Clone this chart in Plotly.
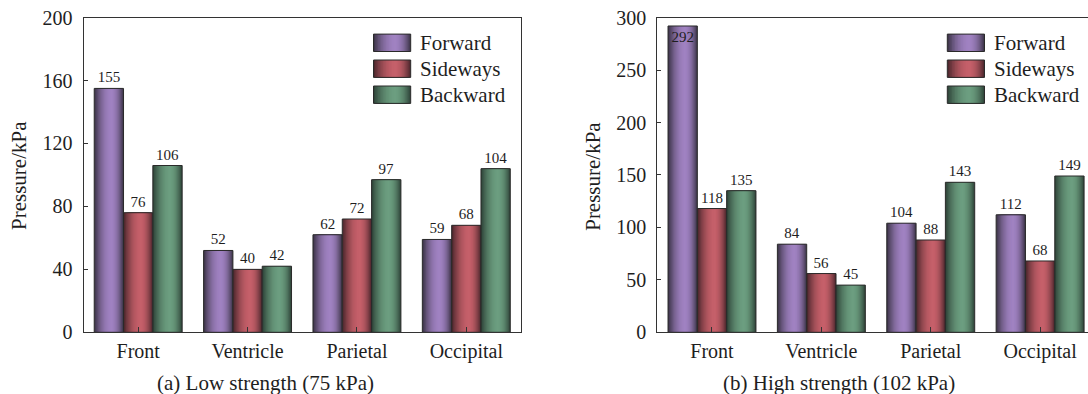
import plotly.graph_objects as go

# ---------------- data ----------------
categories = ["Front", "Ventricle", "Parietal", "Occipital"]
series_names = ["Forward", "Sideways", "Backward"]

low_forward = [155, 52, 62, 59]
low_sideways = [76, 40, 72, 68]
low_backward = [106, 42, 97, 104]

high_forward = [292, 84, 104, 112]
high_sideways = [118, 56, 88, 68]
high_backward = [135, 45, 143, 149]

low_ticks = [0, 40, 80, 120, 160, 200]
high_ticks = [0, 50, 100, 150, 200, 250, 300]

subtitle_low = "(a) Low strength (75 kPa)"
subtitle_high = "(b) High strength (102 kPa)"
y_title = "Pressure/kPa"

# ---------------- style ----------------
W, H = 1088, 394
FONT = "Liberation Serif, Times New Roman, serif"
AX = "#333333"
TXT = "#1e1e1e"
PEAK_COLORS = [(160, 130, 194), (198, 96, 106), (108, 158, 128)]
EDGE_COLORS = [(62, 54, 74), (78, 40, 46), (48, 70, 58)]
K = 14          # gradient layers
BAR_W = 0.268   # bar width (category units)
PEAK = 0.58     # brightest position across a bar

def px_x(p):
    return p / W

def px_y(p):
    return 1 - p / H

def mix(c0, c1, f):
    return "rgb(%d,%d,%d)" % tuple(round(a + (b - a) * f) for a, b in zip(c0, c1))

def prof(t):
    return 1 - (1 - t) ** 2

fig = go.Figure()

panels = [
    dict(vals=[low_forward, low_sideways, low_backward], xa="x", ya="y", ymax=200),
    dict(vals=[high_forward, high_sideways, high_backward], xa="x2", ya="y2", ymax=300),
]

for p in panels:
    for s, vals in enumerate(p["vals"]):
        left = (s - 1.5) * BAR_W
        right = left + BAR_W
        peak = left + PEAK * BAR_W
        for k in range(K):
            t = k / K
            l = left + (peak - left) * t
            r = right - (right - peak) * t
            fig.add_trace(go.Bar(
                x=categories, y=vals, width=[r - l] * 4, offset=[l] * 4,
                marker=dict(color=mix(EDGE_COLORS[s], PEAK_COLORS[s], prof(t)), line=dict(width=0)),
                showlegend=False, hoverinfo="skip", xaxis=p["xa"], yaxis=p["ya"],
            ))
        pos = ["inside" if v > 0.95 * p["ymax"] else "outside" for v in vals]
        fig.add_trace(go.Bar(
            x=categories, y=vals, width=[BAR_W] * 4, offset=[left] * 4,
            name=series_names[s],
            marker=dict(color="rgba(0,0,0,0)", line=dict(color="#2a2a2a", width=1)),
            text=[str(v) for v in vals], textposition=pos, insidetextanchor="end",
            textfont=dict(family=FONT, size=15, color=TXT),
            insidetextfont=dict(family=FONT, size=15, color=TXT),
            outsidetextfont=dict(family=FONT, size=15, color=TXT),
            constraintext="none", cliponaxis=False,
            showlegend=False, xaxis=p["xa"], yaxis=p["ya"],
        ))

# ---------------- axes ----------------
plot_top, plot_bot = 17.6, 332.3
left_x0, left_x1 = 83.5, 521.0
cat_px = (left_x1 - left_x0) / 4
right_x0 = 657.3
right_span = (W - right_x0) / cat_px

common_x = dict(type="category", showline=True, linecolor=AX, linewidth=1.2,
                ticks="inside", ticklen=5, tickcolor=AX, tickwidth=1,
                tickfont=dict(family=FONT, size=20, color=TXT), showgrid=False,
                zeroline=False, mirror=True, fixedrange=True, ticklabelstandoff=1,
                automargin=False)
common_y = dict(showline=True, linecolor=AX, linewidth=1.2, ticks="inside", ticklen=4,
                tickcolor=AX, tickwidth=1, tickfont=dict(family=FONT, size=20, color=TXT),
                showgrid=False, zeroline=False, fixedrange=True, ticklabelstandoff=6,
                automargin=False)

fig.update_layout(
    width=W, height=H, margin=dict(l=0, r=0, t=0, b=0, pad=0), autosize=False,
    paper_bgcolor="white", plot_bgcolor="white", barmode="overlay",
    showlegend=False,
    xaxis=dict(common_x, domain=[px_x(left_x0), px_x(left_x1)], range=[-0.5, 3.5], anchor="y"),
    yaxis=dict(common_y, domain=[px_y(plot_bot), px_y(plot_top)], range=[0, 200],
               tickvals=low_ticks, mirror=True, anchor="x"),
    xaxis2=dict(common_x, domain=[px_x(right_x0), 1.0], range=[-0.5, -0.5 + right_span], anchor="y2"),
    yaxis2=dict(common_y, domain=[px_y(plot_bot), px_y(plot_top)], range=[0, 300],
                tickvals=high_ticks, mirror=False, anchor="x2"),
)

# ---------------- titles ----------------
ann = []
for xoff, sub in [(0, subtitle_low), (right_x0 - left_x0, subtitle_high)]:
    ann.append(dict(text=y_title, x=px_x(19 + xoff), y=px_y(176), xref="paper", yref="paper",
                    textangle=-90, showarrow=False, xanchor="center", yanchor="middle",
                    font=dict(family=FONT, size=21, color=TXT)))
    ann.append(dict(text=sub, x=px_x(265.5 + xoff), y=px_y(383), xref="paper", yref="paper",
                    showarrow=False, xanchor="center", yanchor="middle",
                    font=dict(family=FONT, size=21, color=TXT)))

# ---------------- legends (drawn) ----------------
shapes = []
row_y = [42.8, 68.7, 94.7]
for xoff in [0, right_x0 - left_x0]:
    bx0, bx1 = 373.5 + xoff, 410.7 + xoff
    bpk = bx0 + PEAK * (bx1 - bx0)
    for s, name in enumerate(series_names):
        yc = row_y[s]
        y0, y1 = yc - 8.7, yc + 8.7
        for k in range(K):
            t = k / K
            l = bx0 + (bpk - bx0) * t
            r = bx1 - (bx1 - bpk) * t
            shapes.append(dict(type="rect", xref="paper", yref="paper",
                               x0=px_x(l), x1=px_x(r), y0=px_y(y1), y1=px_y(y0),
                               fillcolor=mix(EDGE_COLORS[s], PEAK_COLORS[s], prof(t)),
                               line=dict(width=0), layer="above"))
        shapes.append(dict(type="rect", xref="paper", yref="paper",
                           x0=px_x(bx0), x1=px_x(bx1), y0=px_y(y1), y1=px_y(y0),
                           line=dict(color="#2a2a2a", width=1), layer="above"))
        ann.append(dict(text=name, x=px_x(418.3 + xoff), y=px_y(yc), xref="paper", yref="paper",
                        showarrow=False, xanchor="left", yanchor="middle",
                        font=dict(family=FONT, size=21, color=TXT)))

fig.update_layout(annotations=ann, shapes=shapes)
fig.write_html(
    "out.html",
    config={"displayModeBar": False},
    post_script="document.body.style.margin='0';document.body.style.overflow='hidden';",
)
